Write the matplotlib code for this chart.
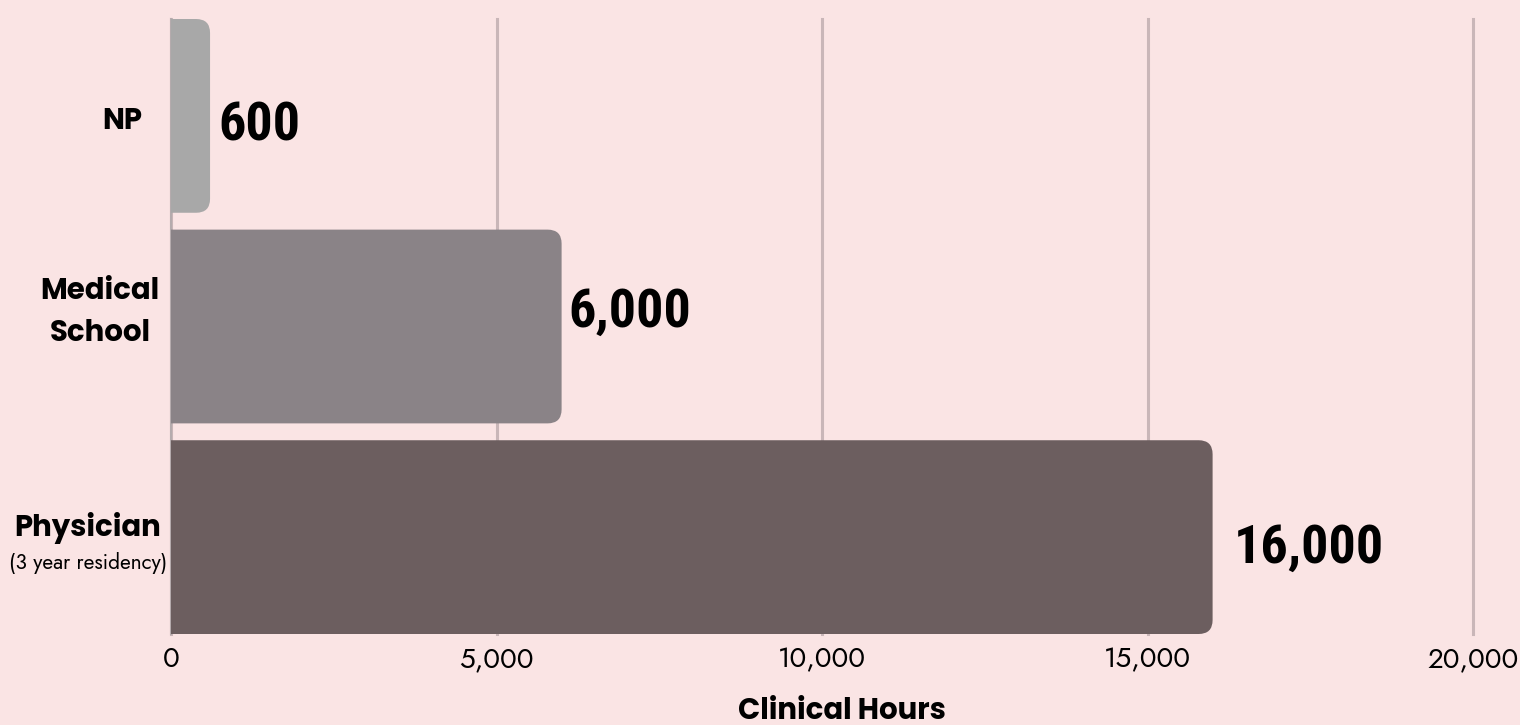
import matplotlib.pyplot as plt
from matplotlib.patches import FancyBboxPatch
from matplotlib.ticker import FuncFormatter

categories = ["NP", "Medical\nSchool", "Physician"]
subtitles = ["", "", "(3 year residency)"]
hours = [600, 6000, 16000]
value_labels = ["600", "6,000", "16,000"]
x_ticks = [0, 5000, 10000, 15000, 20000]

bar_colors = ["#A8A8A8", "#8A8387", "#6C5E5F"]
bg = "#FAE4E4"

head_font = ["Poppins", "Lato", "DejaVu Sans"]
body_font = ["Jost", "Lato", "DejaVu Sans"]
num_font = ["Roboto Condensed", "Archivo Narrow", "Barlow Condensed", "DejaVu Sans"]

fig = plt.figure(figsize=(15.2, 7.25), dpi=100, facecolor=bg)
ax = fig.add_axes([171 / 1520, 91 / 725, 1302 / 1520, 615 / 725])
ax.set_facecolor(bg)

ypos = list(range(len(hours)))
bars = ax.barh(ypos, hours, height=0.92, color=bar_colors, zorder=3)

# swap plain bars for ones with rounded right corners
px_x = 1302 / 20000
px_y = 615 / 2.92
r = 14
for b, c in zip(bars, bar_colors):
    b.set_visible(False)
    x0, y0 = b.get_x(), b.get_y()
    w, h = b.get_width(), b.get_height()
    patch = FancyBboxPatch((x0 - 800, y0), w + 800, h,
                           boxstyle=f"round,pad=0,rounding_size={r / px_x}",
                           mutation_aspect=(1 / px_y) / (1 / px_x),
                           facecolor=c, edgecolor="none", zorder=3)
    ax.add_patch(patch)

ax.set_xlim(0, 20000)
ax.set_ylim(2.46, -0.46)

offsets = [(6, -7), (5, 10), (15, -8)]
for y, v, lab, off in zip(ypos, hours, value_labels, offsets):
    ax.annotate(lab, (v, y), xytext=off, textcoords="offset points",
                ha="left", va="center", fontsize=39, fontweight="bold",
                family=num_font, zorder=4)

ax.set_xticks(x_ticks)
ax.xaxis.set_major_formatter(FuncFormatter(lambda v, p: f"{int(v):,}"))
ax.tick_params(axis="x", length=0, pad=8, labelsize=20)
for t in ax.get_xticklabels():
    t.set_family(body_font)
ax.set_yticks([])

ax.grid(axis="x", color="#C9B6B8", linewidth=2.2, zorder=0)
ax.grid(axis="y", visible=False)
for tk in ax.xaxis.get_major_ticks():
    tk.gridline.set_clip_on(False)
for s in ["top", "right", "bottom"]:
    ax.spines[s].set_visible(False)
ax.spines["left"].set_color("#B5ABAD")
ax.spines["left"].set_linewidth(1.5)

# category labels
tr = ax.get_yaxis_transform()
lab_x = [-0.0377, -0.0546, -0.0638]
lab_y = [0.03, 0.937, 1.958]
for cat, sub, lx, ly in zip(categories, subtitles, lab_x, lab_y):
    ax.text(lx, ly, cat, transform=tr, ha="center", va="center",
            fontsize=21, fontweight="bold", family=head_font,
            linespacing=1.55)
    if sub:
        ax.text(lx, ly + 0.166, sub, transform=tr, ha="center", va="center",
                fontsize=15, family=body_font)

ax.set_xlabel("Clinical Hours", fontsize=21, fontweight="bold",
              family=head_font)
ax.xaxis.label.set_va("center")
ax.xaxis.set_label_coords(0.515, -0.127)

fig.savefig("out.png", dpi=100, facecolor=bg)
